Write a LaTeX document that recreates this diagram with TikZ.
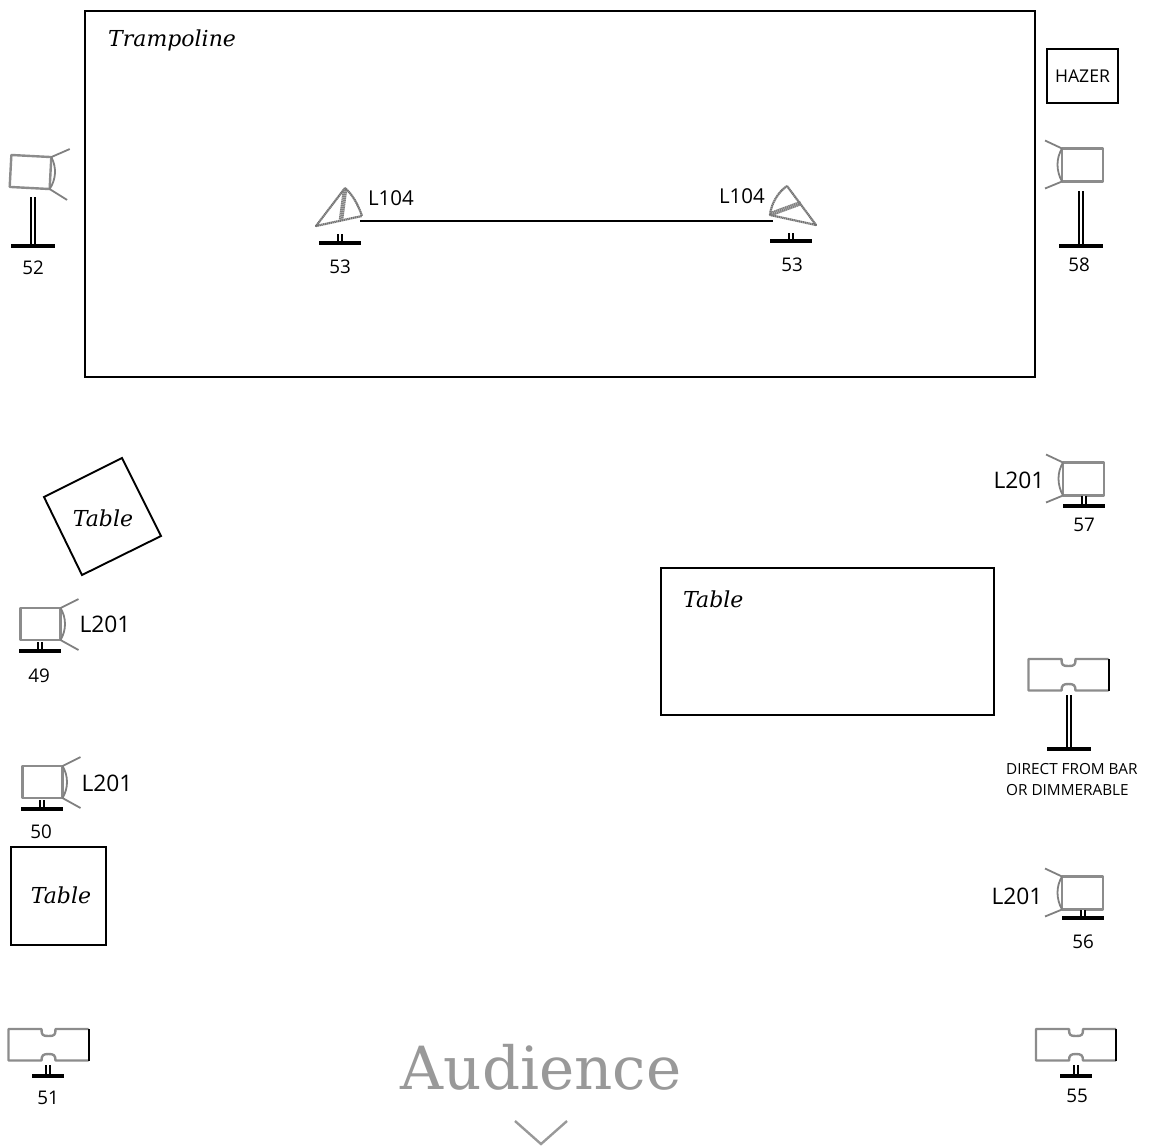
\documentclass[tikz,border=0pt]{standalone}
\usepackage{fontspec}
\setmainfont{Open Sans}
\newfontfamily\serifit{DejaVu Serif}
\newcommand{\fixstand}[4]{% stem x, stem top y, base half width, base y
  \draw[stemline] (#1,#2) -- (#1,#4-1);
  \draw[baseline] (#1-#3,#4) -- (#1+#3,#4);}
\tikzset{
  x=1pt,y=-1pt,
  box/.style={draw=black,line width=1.9pt,inner sep=0pt},
  fixture/.style={draw=black!45,line width=2.4pt,line join=round},
  door/.style={draw=black!50,line width=1.8pt},
  hatch/.style={draw=black!55,line width=2.2pt,dash pattern=on 1.4pt off 0.5pt,line join=round},
  stemline/.style={draw=black,line width=2pt,double=white,double distance=1.1pt},
  baseline/.style={draw=black,line width=3.6pt},
  lbl/.style={inner sep=0pt,font=\fontsize{20.5}{24}\selectfont},
  lbig/.style={inner sep=0pt,font=\fontsize{22.8}{26}\selectfont},
  num/.style={inner sep=0pt,font=\fontsize{18.8}{20}\selectfont},
  small/.style={inner sep=0pt,align=left,font=\fontsize{15.3}{21}\selectfont},
  ital/.style={inner sep=0pt,font=\fontsize{22}{26}\serifit\itshape},
  spotright/.pic={
    \draw[fixture] (-20,-16) rectangle (20,16);
    \draw[door] (20,-16) -- (38,-25) (20,16) -- (38,26);
    \draw[door] (20,-16) .. controls (26,-6) and (26,6) .. (20,16);},
  spotleft/.pic={
    \draw[fixture] (20,-16) rectangle (-21,17);
    \draw[door] (-21,-16) -- (-38,-24) (-21,17) -- (-38,24);
    \draw[door] (-21,-16) .. controls (-27,-6) and (-27,6) .. (-21,17);},
  strip/.pic={
    \draw[fixture] (40,15.5) -- (7,15.5) .. controls (7,10) and (5,9) .. (0,9) .. controls (-5,9) and (-7,10) .. (-7,15.5) -- (-40,15.5) -- (-40,-16) -- (-7,-16) .. controls (-7,-10) and (-6,-9) .. (0,-9) .. controls (6,-9) and (7,-10) .. (7,-16) -- (40,-16);
    \draw[draw=black,line width=2pt] (40,-16) -- (40,15.5);},
}
\begin{document}
\begin{tikzpicture}
\useasboundingbox (0,0) rectangle (1150,1146);
% stage and tables
\node[box,minimum width=950pt,minimum height=366pt] (tramp) at (560,194) {};
\node[ital,anchor=west] (tramplabel) at (108,40) {Trampoline};
\node[box,minimum width=333pt,minimum height=147pt] (tableright) at (827.5,641.5) {};
\node[ital,anchor=west] (tablerightlabel) at (683,599) {Table};
\node[box,minimum width=95pt,minimum height=98pt] (tablesquare) at (58.5,896) {};
\node[ital] (tablesquarelabel) at (61,895) {Table};
\draw[box,line join=miter] (122,458) -- (161,536) -- (82,575) -- (44,497) -- cycle;
\node[ital] (tabletilted) at (103,518) {Table};
\node[box,minimum width=71pt,minimum height=54pt,font=\fontsize{17.6}{20}\selectfont] (hazer) at (1082.5,76) {HAZER};
% side spots
\pic[rotate=-3] at (30.5,172) {spotright};
\fixstand{33}{197}{22}{246}
\node[num] (n52) at (33,268) {52};
\pic at (1083,164.5) {spotleft};
\fixstand{1081}{191}{22}{246}
\node[num] (n58) at (1079,265) {58};
\pic at (1084,478.5) {spotleft};
\fixstand{1084}{496}{21}{506}
\node[num] (n57) at (1084,525) {57};
\node[lbig] (l57) at (1019,480) {L201};
\pic at (1083,892.5) {spotleft};
\fixstand{1083}{910}{21}{918}
\node[num] (n56) at (1083,942) {56};
\node[lbig] (l56) at (1017,896) {L201};
\pic at (40.5,624) {spotright};
\fixstand{40}{642}{21}{651}
\node[num] (n49) at (39,676) {49};
\node[lbig] (l49) at (105,624) {L201};
\pic at (42.5,782) {spotright};
\fixstand{42}{800}{21}{809}
\node[num] (n50) at (41,832) {50};
\node[lbig] (l50) at (107,783) {L201};
% strips
\pic at (48.5,1045) {strip};
\fixstand{48}{1065}{16}{1076}
\node[num] (n51) at (48,1098) {51};
\pic at (1076,1045) {strip};
\fixstand{1076}{1065}{16}{1076}
\node[num] (n55) at (1077,1096) {55};
\pic at (1068.5,675) {strip};
\fixstand{1069}{695}{22}{749}
\node[small,anchor=north west] (direct) at (1006,763) {DIRECT FROM BAR\\OR DIMMERABLE};
% floor lights
\draw[hatch] (345,188) -- (316,226) -- (362,216) .. controls (358,204) and (352,194) .. (345,188);
\draw[draw=black!50,line width=4.5pt,dash pattern=on 1.4pt off 0.5pt] (345,190) -- (341,220);
\fixstand{340}{234}{21}{243}
\node[num] (n53a) at (340,267) {53};
\node[lbl] (l104a) at (391,198) {L104};
\coordinate (beamleft) at (360,221);
\draw[hatch] (787,186) -- (816,225) -- (770,215) .. controls (771,204) and (778,192) .. (787,186);
\draw[draw=black!50,line width=4.5pt,dash pattern=on 1.4pt off 0.5pt] (771,214) -- (801,203);
\fixstand{791}{233}{21}{241}
\node[num] (n53b) at (792,265) {53};
\node[lbl] (l104b) at (742,196) {L104};
\coordinate (beamright) at (773,221);
\draw[draw=black,line width=1.9pt] (beamleft) -- (beamright);
% audience
\node[inner sep=0pt,text=black!40,font=\fontsize{59.5}{70}\serifit] (audience) at (541,1067) {Audience};
\coordinate (chevl) at (515,1121);
\coordinate (chevm) at (541,1144);
\coordinate (chevr) at (567,1121);
\draw[draw=black!40,line width=2.4pt] (chevl) -- (chevm) -- (chevr);
\end{tikzpicture}
\end{document}
